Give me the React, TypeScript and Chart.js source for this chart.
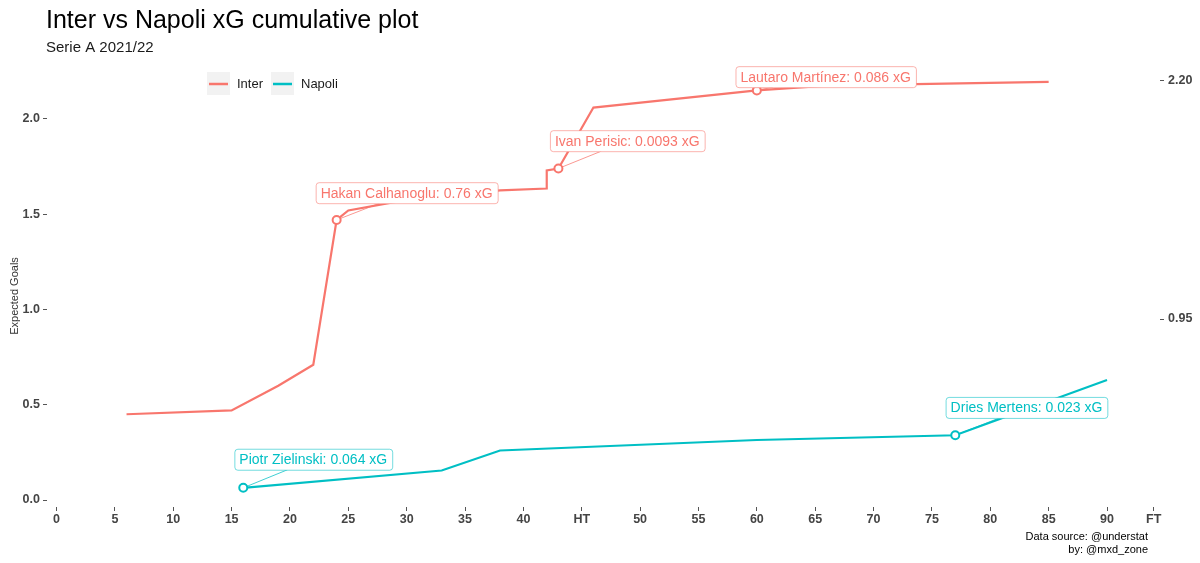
import React, { useEffect, useRef } from 'react';
import { Chart, registerables } from 'chart.js';

Chart.register(...registerables);

const FONT = '"Liberation Sans", Arial, Helvetica, sans-serif';

const titleText = 'Inter vs Napoli xG cumulative plot';
const subtitleText = 'Serie A 2021/22';
const yAxisTitle = 'Expected Goals';
const captionLines = ['Data source: @understat', 'by: @mxd_zone'];

const teams = ['Inter', 'Napoli'];
const teamColors = ['#F8766D', '#00BFC4'];

// cumulative xG, Inter
const interMinutes = [6, 15, 19, 22, 24, 25, 30, 38, 42, 42, 43, 46, 60, 66, 85];
const interXG = [0.45, 0.47, 0.6, 0.71, 1.47, 1.52, 1.575, 1.625, 1.635, 1.73, 1.74, 2.06, 2.15, 2.175, 2.195];

// cumulative xG, Napoli
const napoliMinutes = [16, 33, 38, 60, 77, 90];
const napoliXG = [0.064, 0.155, 0.26, 0.315, 0.34, 0.63];

// goal annotations
const goalPlayers = ['Hakan Calhanoglu', 'Ivan Perisic', 'Lautaro Martínez', 'Piotr Zielinski', 'Dries Mertens'];
const goalShotXG = ['0.76', '0.0093', '0.086', '0.064', '0.023'];
const goalTeam = ['Inter', 'Inter', 'Inter', 'Napoli', 'Napoli'];
const goalMinutes = [24, 43, 60, 16, 77];
const goalCumXG = [1.47, 1.74, 2.15, 0.064, 0.34];
// where the repelled labels sit (data units)
const labelMinutes = [30, 48.9, 65.9, 22, 83.1];
const labelCumXG = [1.613, 1.886, 2.222, 0.214, 0.486];

// axis ticks
const xTickValues = [0, 5, 10, 15, 20, 25, 30, 35, 40, 45, 50, 55, 60, 65, 70, 75, 80, 85, 90, 94];
const xTickLabels = ['0', '5', '10', '15', '20', '25', '30', '35', '40', 'HT', '50', '55', '60', '65', '70', '75', '80', '85', '90', 'FT'];
const yTickValues = [0, 0.5, 1.0, 1.5, 2.0];
const yRightTickValues = [0.95, 2.2];

const colorOf = (team: string) => teamColors[teams.indexOf(team)];

function hexA(hex: string, a: number) {
  const r = parseInt(hex.slice(1, 3), 16);
  const g = parseInt(hex.slice(3, 5), 16);
  const b = parseInt(hex.slice(5, 7), 16);
  return `rgba(${r},${g},${b},${a})`;
}

function labelBoxes(chart: any) {
  const { ctx, scales } = chart;
  const x = scales.x;
  const y = scales.y;
  ctx.save();
  ctx.font = `14px ${FONT}`;
  const boxes = goalPlayers.map((p, i) => {
    const text = `${p}: ${goalShotXG[i]} xG`;
    const w = ctx.measureText(text).width + 10;
    const h = 21;
    const cx = x.getPixelForValue(labelMinutes[i]);
    const cy = y.getPixelForValue(labelCumXG[i]);
    const px = x.getPixelForValue(goalMinutes[i]);
    const py = y.getPixelForValue(goalCumXG[i]);
    return { text, w, h, cx, cy, px, py, color: colorOf(goalTeam[i]) };
  });
  ctx.restore();
  return boxes;
}

const annotationPlugin = {
  id: 'goalAnnotations',
  beforeDatasetsDraw(chart: any) {
    const { ctx } = chart;
    ctx.save();
    labelBoxes(chart).forEach((b) => {
      const dx = b.cx - b.px;
      const dy = b.cy - b.py;
      const tx = dx !== 0 ? (Math.abs(dx) - b.w / 2) / Math.abs(dx) : 1;
      const ty = dy !== 0 ? (Math.abs(dy) - b.h / 2) / Math.abs(dy) : 1;
      const t = Math.max(0, Math.max(tx, ty));
      const ex = b.px + dx * t;
      const ey = b.py + dy * t;
      ctx.strokeStyle = hexA(b.color, 0.75);
      ctx.lineWidth = 1;
      ctx.beginPath();
      ctx.moveTo(b.px, b.py);
      ctx.lineTo(ex, ey);
      ctx.stroke();
    });
    ctx.restore();
  },
  afterDatasetsDraw(chart: any) {
    const { ctx } = chart;
    ctx.save();
    labelBoxes(chart).forEach((b) => {
      const l = b.cx - b.w / 2;
      const t = b.cy - b.h / 2;
      ctx.beginPath();
      ctx.roundRect(l + 0.5, t + 0.5, b.w, b.h, 3);
      ctx.fillStyle = '#ffffff';
      ctx.fill();
      ctx.strokeStyle = hexA(b.color, 0.55);
      ctx.lineWidth = 1;
      ctx.stroke();
      ctx.font = `14px ${FONT}`;
      ctx.fillStyle = b.color;
      ctx.textAlign = 'center';
      ctx.textBaseline = 'middle';
      ctx.fillText(b.text, b.cx, b.cy + 1);
    });
    ctx.restore();
  },
};

const decorPlugin = {
  id: 'decor',
  afterDraw(chart: any) {
    const { ctx } = chart;
    ctx.save();
    // title & subtitle
    ctx.fillStyle = '#000000';
    ctx.textAlign = 'left';
    ctx.textBaseline = 'alphabetic';
    ctx.font = `25px ${FONT}`;
    ctx.fillText(titleText, 46, 28);
    ctx.font = `15px ${FONT}`;
    ctx.fillStyle = '#1a1a1a';
    ctx.fillText(subtitleText, 46, 52);

    // legend
    const keyX = [207, 271];
    teams.forEach((team, i) => {
      ctx.fillStyle = '#F2F2F2';
      ctx.fillRect(keyX[i], 72, 23, 23);
      ctx.strokeStyle = teamColors[i];
      ctx.lineWidth = 2.5;
      ctx.beginPath();
      ctx.moveTo(keyX[i] + 2, 84);
      ctx.lineTo(keyX[i] + 21, 84);
      ctx.stroke();
      ctx.fillStyle = '#1a1a1a';
      ctx.font = `13px ${FONT}`;
      ctx.textBaseline = 'middle';
      ctx.fillText(team, keyX[i] + 30, 84);
    });

    // y axis title
    ctx.save();
    ctx.translate(15, 296);
    ctx.rotate(-Math.PI / 2);
    ctx.textAlign = 'center';
    ctx.textBaseline = 'middle';
    ctx.font = `11px ${FONT}`;
    ctx.fillStyle = '#333333';
    ctx.fillText(yAxisTitle, 0, 0);
    ctx.restore();

    // caption
    ctx.textAlign = 'right';
    ctx.textBaseline = 'middle';
    ctx.font = `11px ${FONT}`;
    ctx.fillStyle = '#000000';
    ctx.fillText(captionLines[0], 1148, 537);
    ctx.fillText(captionLines[1], 1148, 550);
    ctx.restore();
  },
};

export default function App() {
  const ref = useRef<HTMLCanvasElement>(null);

  useEffect(() => {
    document.body.style.margin = '0';
    const tickFont = { family: FONT, size: 12.5, weight: 'bold' as const };
    const axisGrid = {
      display: true,
      drawOnChartArea: false,
      drawTicks: true,
      tickLength: 4,
      color: '#555555',
      lineWidth: 1,
    };
    const chart = new Chart(ref.current as HTMLCanvasElement, {
      type: 'scatter',
      data: {
        datasets: [
          {
            label: 'goals',
            data: goalMinutes.map((m, i) => ({ x: m, y: goalCumXG[i] })),
            showLine: false,
            pointRadius: 4,
            pointBorderWidth: 2,
            pointBackgroundColor: '#ffffff',
            pointBorderColor: goalTeam.map(colorOf),
          },
          {
            label: teams[0],
            data: interMinutes.map((m, i) => ({ x: m, y: interXG[i] })),
            showLine: true,
            borderColor: teamColors[0],
            borderWidth: 2.2,
            pointRadius: 0,
            tension: 0,
          },
          {
            label: teams[1],
            data: napoliMinutes.map((m, i) => ({ x: m, y: napoliXG[i] })),
            showLine: true,
            borderColor: teamColors[1],
            borderWidth: 2.2,
            pointRadius: 0,
            tension: 0,
          },
        ],
      },
      options: {
        responsive: false,
        animation: false,
        events: [],
        layout: { padding: { top: 70, left: 0, right: 0, bottom: 0 } },
        plugins: {
          legend: { display: false },
          title: { display: false },
          tooltip: { enabled: false },
        },
        scales: {
          x: {
            type: 'linear',
            min: -0.814,
            max: 94.54,
            afterBuildTicks: (s: any) => {
              s.ticks = xTickValues.map((v) => ({ value: v }));
            },
            afterFit: (s: any) => {
              s.height = 56;
            },
            grid: axisGrid,
            border: { display: false },
            ticks: {
              autoSkip: false,
              maxRotation: 0,
              padding: 1,
              color: '#444444',
              font: tickFont,
              callback: (_v: any, i: number) => xTickLabels[i],
            },
          },
          y: {
            type: 'linear',
            position: 'left',
            min: -0.0367,
            max: 2.257,
            afterBuildTicks: (s: any) => {
              s.ticks = yTickValues.map((v) => ({ value: v }));
            },
            afterFit: (s: any) => {
              s.width = 47;
            },
            grid: axisGrid,
            border: { display: false },
            ticks: {
              padding: 3,
              color: '#444444',
              font: tickFont,
              callback: (v: any) => Number(v).toFixed(1),
            },
          },
          y2: {
            type: 'linear',
            position: 'right',
            min: -0.0367,
            max: 2.257,
            afterBuildTicks: (s: any) => {
              s.ticks = yRightTickValues.map((v) => ({ value: v }));
            },
            afterFit: (s: any) => {
              s.width = 40;
            },
            grid: axisGrid,
            border: { display: false },
            ticks: {
              padding: 4,
              color: '#444444',
              font: tickFont,
              callback: (v: any) => Number(v).toFixed(2),
            },
          },
        },
      },
      plugins: [annotationPlugin, decorPlugin],
    });
    return () => chart.destroy();
  }, []);

  return (
    <div style={{ position: 'absolute', left: 0, top: 0, width: 1200, height: 563, background: '#ffffff' }}>
      <canvas ref={ref} width={1200} height={563} style={{ display: 'block' }} />
    </div>
  );
}
